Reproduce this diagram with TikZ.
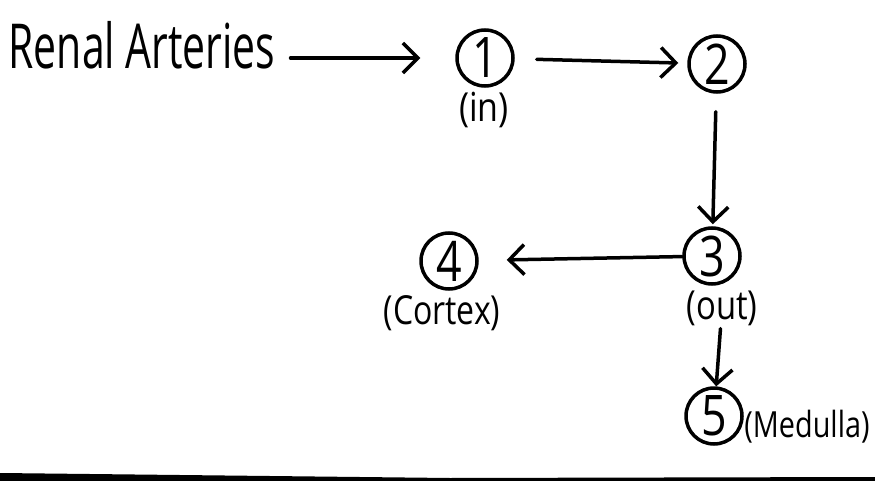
\documentclass[tikz,border=0pt]{standalone}
\usepackage{fontspec}
\setmainfont{Open Sans}
\usetikzlibrary{arrows.meta}
\newcommand{\narrowtxt}[2]{\scalebox{#1}[1]{#2}}
\begin{document}
\begin{tikzpicture}[x=1pt,y=-1pt,
  circ/.style={circle,draw,line width=3.5pt,minimum size=56pt,inner sep=0pt,font=\fontsize{56}{56}\selectfont},
  lbl/.style={inner sep=0pt,font=\fontsize{40}{40}\selectfont},
  arr/.style={line width=3.5pt,line cap=round,-{Straight Barb[length=15pt,width=30pt,line width=3.5pt]}},
]
\useasboundingbox (0,0) rectangle (875,481);
\node[inner sep=0pt,font=\fontsize{62}{62}\selectfont] (ra) at (142,45) {\narrowtxt{0.66}{Renal Arteries}};
\node[circ] (n1) at (485,58) {\narrowtxt{0.8}{1}};
\node[lbl] (in) at (484,110) {\narrowtxt{0.85}{(in)}};
\node[circ] (n2) at (717,64) {\narrowtxt{0.8}{2}};
\node[circ] (n3) at (712,256) {\narrowtxt{0.8}{3}};
\node[lbl] (out) at (722,308) {\narrowtxt{0.82}{(out)}};
\node[circ] (n4) at (449,261) {\narrowtxt{0.8}{4}};
\node[lbl] (cx) at (442,313) {\narrowtxt{0.8}{(Cortex)}};
\node[circ] (n5) at (714,416) {\narrowtxt{0.8}{5}};
\node[lbl,font=\fontsize{36}{36}\selectfont] (med) at (807,427) {\narrowtxt{0.8}{(Medulla)}};
\draw[arr,shorten <=15pt,shorten >=35pt] (ra.east |- n1.west) -- (n1.west);
\draw[arr,shorten <=22pt,shorten >=9pt] (n1) -- (n2);
\draw[arr,shorten <=18pt,shorten >=2pt] (n2) -- (n3);
\draw[arr,shorten >=28pt] (n3) -- (n4);
\draw[arr,shorten <=3pt] (out) -- (n5);
\fill (0,473) -- (450,478) -- (875,477) -- (875,481) -- (0,481) -- cycle;
\end{tikzpicture}
\end{document}
